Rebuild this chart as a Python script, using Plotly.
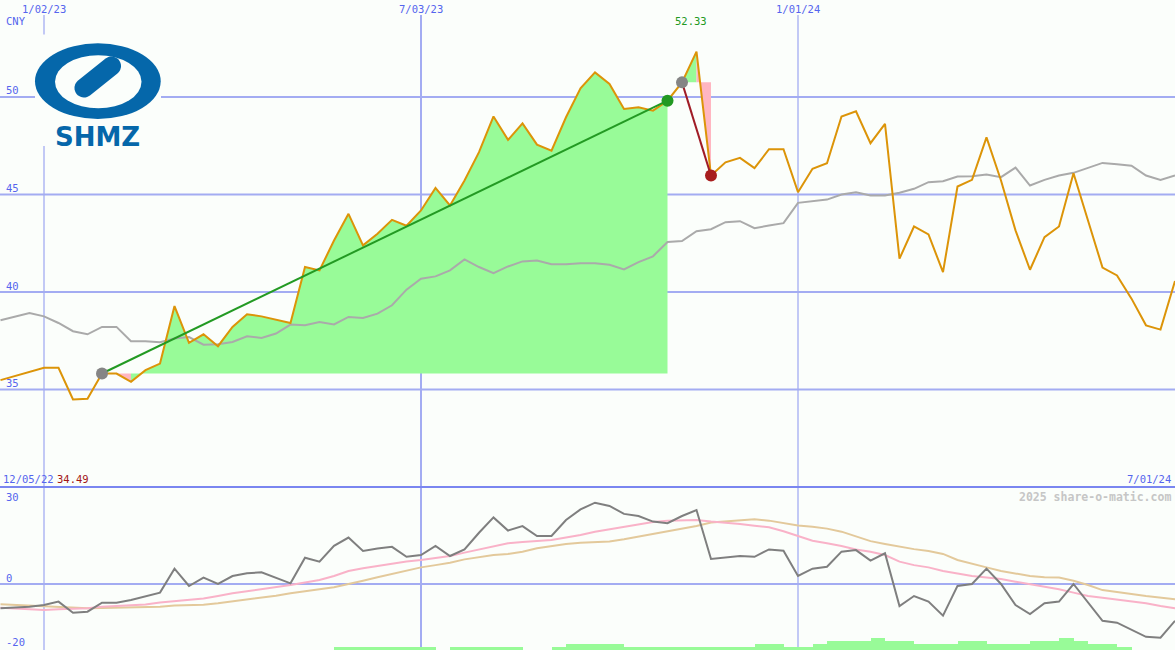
import math
import pandas as pd
import plotly.graph_objects as go

W, H = 1175, 650
BG = "#fbfefb"

# ---------------- data (weekly, first week 2022-12-12) ----------------
start_date = "2022-12-12"
price = [35.48, 35.68, 35.89, 36.11, 36.11, 34.49, 34.52, 35.82, 35.82, 35.39,
         35.99, 36.33, 39.28, 37.39, 37.83, 37.22, 38.21, 38.86, 38.75, 38.58,
         38.41, 41.28, 41.11, 42.64, 44.01, 42.39, 42.99, 43.70, 43.40, 44.18,
         45.34, 44.44, 45.72, 47.17, 49.00, 47.80, 48.65, 47.56, 47.25, 48.96,
         50.45, 51.26, 50.67, 49.39, 49.47, 49.30, 49.81, 50.75, 52.33, 45.97,
         46.65, 46.88, 46.35, 47.32, 47.32, 45.12, 46.32, 46.60, 49.00, 49.27,
         47.63, 48.62, 41.71, 43.36, 42.95, 41.02, 45.41, 45.75, 47.93, 45.72,
         43.16, 41.14, 42.81, 43.36, 46.09, 43.67, 41.25, 40.85, 39.66, 38.29,
         38.07, 40.56]
price_ma = [38.55, 38.73, 38.92, 38.75, 38.41, 37.99, 37.83, 38.21, 38.21, 37.47,
            37.47, 37.42, 37.61, 37.69, 37.30, 37.32, 37.44, 37.73, 37.64, 37.87,
            38.33, 38.29, 38.46, 38.34, 38.72, 38.67, 38.89, 39.32, 40.12, 40.68,
            40.80, 41.11, 41.67, 41.28, 40.97, 41.31, 41.57, 41.62, 41.42, 41.42,
            41.48, 41.48, 41.40, 41.16, 41.53, 41.83, 42.56, 42.61, 43.12, 43.22,
            43.58, 43.63, 43.27, 43.41, 43.53, 44.57, 44.66, 44.74, 45.00, 45.12,
            44.95, 44.95, 45.09, 45.29, 45.63, 45.68, 45.92, 45.93, 46.02, 45.89,
            46.38, 45.46, 45.75, 45.97, 46.11, 46.37, 46.62, 46.55, 46.48, 45.97,
            45.75, 45.97]
momentum = [-7.6, -7.3, -7.1, -6.56, -5.5, -8.96, -8.65, -5.83, -5.83, -5.0,
            -3.75, -2.7, 4.8, -0.63, 1.98, 0.0, 2.5, 3.33, 3.65, 1.9,
            0.2, 8.2, 7.0, 11.9, 14.5, 10.3, 11.1, 11.6, 8.5, 9.06,
            11.9, 8.75, 10.8, 16.0, 20.8, 16.7, 18.1, 15.0, 15.0, 20.0,
            23.3, 25.4, 24.4, 21.9, 21.25, 19.5, 19.0, 21.25, 23.1, 7.8,
            8.3, 8.75, 8.5, 10.8, 10.4, 2.5, 4.8, 5.4, 10.1, 10.6,
            7.3, 9.6, -6.9, -3.75, -5.5, -9.9, -0.6, 0.0, 4.8, 0.0,
            -6.56, -9.4, -6.0, -5.5, 0.0, -5.8, -11.5, -12.1, -14.2, -16.5,
            -16.8, -11.5]
momentum_fast = [-7.4, -7.7, -7.9, -8.1, -7.9, -7.7, -7.6, -7.1, -6.8, -6.6,
                 -6.4, -5.8, -5.3, -5.0, -4.5, -3.75, -2.9, -2.3, -1.7, -1.0,
                 -0.3, 0.5, 1.25, 2.5, 4.06, 4.9, 5.6, 6.35, 7.0, 7.5,
                 8.2, 8.75, 9.8, 10.8, 11.9, 12.7, 13.1, 13.4, 13.75, 14.5,
                 15.3, 16.35, 17.1, 17.9, 18.6, 19.4, 19.8, 20.0, 20.0, 19.5,
                 19.2, 18.75, 18.2, 17.7, 16.5, 14.9, 13.5, 12.7, 11.9, 10.8,
                 10.1, 9.06, 7.0, 5.9, 5.2, 4.06, 3.3, 2.5, 2.0, 1.56,
                 0.73, 0.0, -0.83, -1.67, -2.7, -3.75, -4.27, -4.8, -5.5, -6.0,
                 -6.9, -7.6]
momentum_slow = [-6.35, -6.56, -6.9, -7.1, -7.4, -7.5, -7.6, -7.5, -7.4, -7.3,
                 -7.2, -7.1, -6.7, -6.6, -6.45, -6.0, -5.4, -5.0, -4.4, -3.65,
                 -2.9, -2.4, -1.67, -1.04, -0.1, 1.04, 2.1, 3.1, 4.17, 5.2,
                 5.9, 6.67, 7.7, 8.3, 9.06, 9.4, 10.1, 11.15, 11.9, 12.5,
                 12.9, 13.2, 13.3, 13.95, 14.8, 15.6, 16.6, 17.4, 18.1, 19.2,
                 19.5, 20.0, 20.2, 19.8, 19.0, 18.25, 17.9, 17.3, 16.35, 14.8,
                 13.4, 12.5, 11.65, 10.9, 10.3, 9.4, 7.5, 6.25, 5.2, 4.06,
                 3.2, 2.5, 2.1, 2.0, 1.04, -0.3, -1.9, -2.6, -3.1, -3.75,
                 -4.27, -4.8]
volume = [0] * 23 + [2.7] * 7 + [0] + [2.7] * 5 + [0, 0] + [2.7] + [6.0] * 4 + \
         [2.7] * 9 + [6.0, 6.0] + [2.7, 2.7] + [6.0] + [9.0] * 3 + [11.7] + \
         [9.0, 9.0] + [6.0] * 3 + [9.0, 9.0] + [6.0] * 3 + [9.0, 9.0] + [11.7] + \
         [9.0] + [6.0, 6.0] + [2.7] + [0] * 4

signal_1 = ("2023-01-30", "2023-10-30")   # entry, exit (green)
signal_2 = ("2023-11-06", "2023-11-20")   # entry, exit (red)

date_ticks = ["2023-01-02", "2023-07-03", "2024-01-01"]
date_tick_labels = ["1/02/23", "7/03/23", "1/01/24"]
price_ticks = [50, 45, 40, 35]
mom_ticks = [30, 0, -20]
currency = "CNY"
high_label = "52.33"
high_date = "2023-11-13"
low_label = "34.49"
first_label = "12/05/22"
last_label = "7/01/24"
credit = "2025 share-o-matic.com"

# ---------------- helpers ----------------
dates = pd.date_range(start_date, periods=len(price), freq="7D")
idx = {d: i for i, d in enumerate(dates)}

px_per_day = 377 / 182
x_start = pd.Timestamp("2023-01-02") - pd.Timedelta(days=44 / px_per_day)
x_end = x_start + pd.Timedelta(days=W / px_per_day)

BOTTOM_FRAC = 163 / H

def px(x):
    return x / W

def py(y):
    return 1 - y / H

GREEN_FILL = "#98fb98"
PINK_FILL = "#ffb6c1"
ORANGE = "#dc9408"
GRID = "#a3acf2"
SEP = "#7a86f0"
TXT = "#5565ee"
MONO = "DejaVu Sans Mono"
FS = 10.5

fig = go.Figure()

# volume bars (bottom panel, own scale)
fig.add_trace(go.Bar(x=dates, y=volume, xaxis="x", yaxis="y3",
                     marker=dict(color=GREEN_FILL, line=dict(width=0)),
                     width=7 * 86400000, offset=0, hoverinfo="skip"))

# fills between signal baseline and price
def add_fill(entry, exit_):
    i0, i1 = idx[pd.Timestamp(entry)], idx[pd.Timestamp(exit_)]
    base = price[i0]
    groups = []
    for j in range(i0, i1):
        col = GREEN_FILL if price[j + 1] >= base else PINK_FILL
        if groups and groups[-1][0] == col:
            groups[-1][2] = j + 1
        else:
            groups.append([col, j, j + 1])
    for col, a, b in groups:
        xs = list(dates[a:b + 1]) + [dates[b], dates[a]]
        ys = price[a:b + 1] + [base, base]
        fig.add_trace(go.Scatter(x=xs, y=ys, fill="toself", fillcolor=col,
                                 mode="lines", line=dict(width=0, color=col),
                                 xaxis="x", yaxis="y", hoverinfo="skip"))

add_fill(*signal_1)
add_fill(*signal_2)

# price moving average and price
fig.add_trace(go.Scatter(x=dates, y=price_ma, mode="lines",
                         line=dict(color="#aaaaaa", width=2), xaxis="x", yaxis="y"))
fig.add_trace(go.Scatter(x=dates, y=price, mode="lines",
                         line=dict(color=ORANGE, width=2), xaxis="x", yaxis="y"))

# signal lines and markers
for (entry, exit_), lcol, dcol in [(signal_1, "#239a23", "#229922"),
                                    (signal_2, "#a01c26", "#a81e1e")]:
    i0, i1 = idx[pd.Timestamp(entry)], idx[pd.Timestamp(exit_)]
    fig.add_trace(go.Scatter(x=[dates[i0], dates[i1]], y=[price[i0], price[i1]],
                             mode="lines", line=dict(color=lcol, width=2),
                             xaxis="x", yaxis="y"))
    fig.add_trace(go.Scatter(x=[dates[i0]], y=[price[i0]], mode="markers",
                             marker=dict(color="#858585", size=12, line=dict(width=0)),
                             xaxis="x", yaxis="y"))
    fig.add_trace(go.Scatter(x=[dates[i1]], y=[price[i1]], mode="markers",
                             marker=dict(color=dcol, size=12, line=dict(width=0)),
                             xaxis="x", yaxis="y"))

# bottom panel lines
fig.add_trace(go.Scatter(x=dates, y=momentum_slow, mode="lines",
                         line=dict(color="#e3c99b", width=2), xaxis="x", yaxis="y2"))
fig.add_trace(go.Scatter(x=dates, y=momentum_fast, mode="lines",
                         line=dict(color="#f9b2c8", width=2), xaxis="x", yaxis="y2"))
fig.add_trace(go.Scatter(x=dates, y=momentum, mode="lines",
                         line=dict(color="#7f7f7f", width=2), xaxis="x", yaxis="y2"))

# ---------------- grid & frame shapes ----------------
shapes = []
for v in price_ticks:
    shapes.append(dict(type="line", xref="paper", x0=0, x1=1, yref="y", y0=v, y1=v,
                       line=dict(color=GRID, width=2), layer="below"))
for d, w in zip(date_ticks, [1.3, 2, 1.3]):
    shapes.append(dict(type="line", xref="x", x0=d, x1=d, yref="paper", y0=0,
                       y1=py(15), line=dict(color=GRID, width=w), layer="below"))
shapes.append(dict(type="line", xref="paper", x0=0, x1=1, yref="y2", y0=0, y1=0,
                   line=dict(color=GRID, width=2), layer="below"))
shapes.append(dict(type="line", xref="paper", x0=0, x1=1, yref="paper",
                   y0=BOTTOM_FRAC, y1=BOTTOM_FRAC, line=dict(color=SEP, width=2),
                   layer="below"))

# ---------------- logo ----------------
LOGO = "#0567aa"
shapes.append(dict(type="rect", xref="paper", yref="paper", x0=px(35), x1=px(161),
                   y0=py(146), y1=py(34.5), fillcolor=BG, line=dict(width=0),
                   layer="above"))
shapes.append(dict(type="circle", xref="paper", yref="paper", x0=px(35), x1=px(160.7),
                   y0=py(119), y1=py(43.3), fillcolor=LOGO, line=dict(width=0),
                   layer="above"))
shapes.append(dict(type="circle", xref="paper", yref="paper", x0=px(55), x1=px(141.5),
                   y0=py(108.3), y1=py(55.2), fillcolor=BG, line=dict(width=0),
                   layer="above"))

def capsule(p1, p2, r, n=18):
    ang = math.atan2(p2[1] - p1[1], p2[0] - p1[0])
    pts = []
    for k in range(n + 1):
        a = ang - math.pi / 2 + math.pi * k / n
        pts.append((p2[0] + r * math.cos(a), p2[1] + r * math.sin(a)))
    for k in range(n + 1):
        a = ang + math.pi / 2 + math.pi * k / n
        pts.append((p1[0] + r * math.cos(a), p1[1] + r * math.sin(a)))
    return "M " + " L ".join(f"{px(x):.5f},{py(y):.5f}" for x, y in pts) + " Z"

shapes.append(dict(type="path", xref="paper", yref="paper",
                   path=capsule((84, 88), (111.5, 66), 9.5),
                   fillcolor=LOGO, line=dict(width=0), layer="above"))

# ---------------- annotations ----------------
ann = []
def txt(text, x, y, xref="paper", yref="paper", color=TXT, size=FS, xanchor="left",
        yshift=0, xshift=0):
    ann.append(dict(text=text, x=x, y=y, xref=xref, yref=yref, showarrow=False,
                    font=dict(family=MONO, size=size, color=color), xanchor=xanchor,
                    yanchor="middle", yshift=yshift, xshift=xshift, borderpad=0))

for d, lab in zip(date_ticks, date_tick_labels):
    txt(lab, d, py(8.5), xref="x", xanchor="center")
txt(currency, px(5), py(21))
for v in price_ticks:
    txt(str(v), px(5), v, yref="y", yshift=6.5)
for v in mom_ticks:
    txt(str(v), px(5), v, yref="y2", yshift=(-9 if v == mom_ticks[0] else 6))
txt(first_label, px(1.5), py(478.5))
txt(low_label, px(56), py(478.5), color="#a31515")
txt(last_label, px(1172), py(478.5), xanchor="right")
txt("<b>" + credit + "</b>", px(1172), py(496.5), color="#c6c6c6", size=11.5,
    xanchor="right")
txt(high_label, high_date, py(21), xref="x", color="#229922", xanchor="center",
    xshift=-6)
ann.append(dict(text="<b>SHMZ</b>", x=px(97.5), y=py(137), xref="paper", yref="paper",
                showarrow=False, font=dict(family="DejaVu Sans", size=26, color=LOGO),
                xanchor="center", yanchor="middle"))

fig.update_layout(
    width=W, height=H, margin=dict(l=0, r=0, t=0, b=0),
    paper_bgcolor=BG, plot_bgcolor=BG, showlegend=False,
    xaxis=dict(type="date", range=[x_start, x_end], domain=[0, 1], visible=False,
               anchor="y"),
    yaxis=dict(domain=[BOTTOM_FRAC, 1], range=[30.0, 54.974], visible=False,
               anchor="x"),
    yaxis2=dict(domain=[0, BOTTOM_FRAC], range=[-20.625, 30.31], visible=False,
                anchor="x"),
    yaxis3=dict(overlaying="y2", range=[0, 163], visible=False, anchor="x"),
    shapes=shapes, annotations=ann, bargap=0,
)

fig.write_html("out.html", config={"displayModeBar": False},
               post_script="document.body.style.margin='0';"
                           "document.body.style.padding='0';"
                           "document.body.style.overflow='hidden';")
